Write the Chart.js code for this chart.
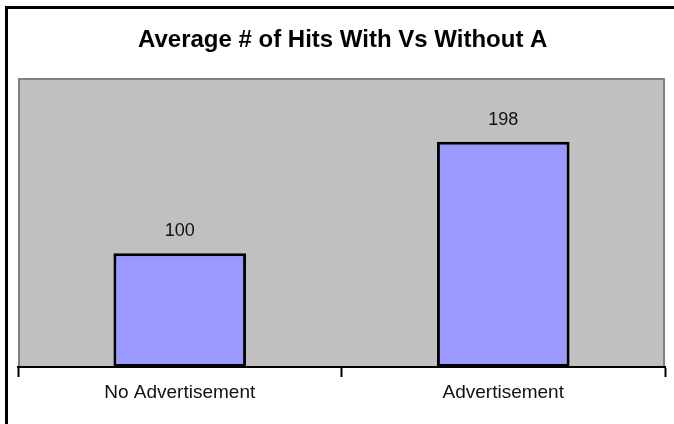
<!DOCTYPE html>
<html><head><meta charset="utf-8">
<script src="https://cdn.jsdelivr.net/npm/chart.js@4/dist/chart.umd.min.js"></script>
<style>html,body{margin:0;padding:0;background:#fff;overflow:hidden}</style>
</head><body>
<canvas id="c" width="674" height="424"></canvas>
<script>
const TITLE = 'Average # of Hits With Vs Without Advertisement';
const categories = ['No Advertisement', 'Advertisement'];
const hits = [100, 198];
const yMin = 0;
const yMax = 254;

const FONT = '"Liberation Sans", Arial, sans-serif';

const decor = {
  id: 'decor',
  beforeDraw(chart) {
    const ctx = chart.ctx, a = chart.chartArea;
    ctx.save();
    ctx.fillStyle = '#fff';
    ctx.fillRect(0, 0, chart.width, chart.height);
    // outer frame (top + left)
    ctx.fillStyle = '#000';
    ctx.fillRect(5, 6, chart.width - 5, 3);
    ctx.fillRect(5, 6, 3, chart.height - 6);
    // plot area
    ctx.fillStyle = '#C0C0C0';
    ctx.fillRect(a.left, a.top, a.right - a.left, a.bottom - a.top);
    ctx.strokeStyle = '#808080';
    ctx.lineWidth = 2;
    ctx.beginPath();
    ctx.moveTo(a.left + 1, a.bottom);
    ctx.lineTo(a.left + 1, a.top + 1);
    ctx.lineTo(a.right - 1, a.top + 1);
    ctx.lineTo(a.right - 1, a.bottom);
    ctx.stroke();
    ctx.restore();
  },
  afterDatasetsDraw(chart) {
    const ctx = chart.ctx;
    const meta = chart.getDatasetMeta(0);
    ctx.save();
    ctx.fillStyle = '#111';
    ctx.font = '18px ' + FONT;
    ctx.textAlign = 'center';
    ctx.textBaseline = 'alphabetic';
    meta.data.forEach((el, i) => {
      ctx.fillText(String(hits[i]), el.x, el.y - 17);
    });
    ctx.restore();
  },
  afterDraw(chart) {
    const ctx = chart.ctx;
    ctx.save();
    ctx.beginPath();
    ctx.rect(0, 0, 547, 75);
    ctx.clip();
    ctx.fillStyle = '#000';
    ctx.font = 'bold 24px ' + FONT;
    ctx.textAlign = 'left';
    ctx.textBaseline = 'alphabetic';
    ctx.fillText(TITLE, 138, 47);
    ctx.restore();
  }
};

new Chart(document.getElementById('c'), {
  type: 'bar',
  data: {
    labels: categories,
    datasets: [{
      data: hits,
      backgroundColor: '#9999FF',
      borderColor: '#000',
      borderWidth: 3,
      borderSkipped: false,
      barPercentage: 0.41,
      categoryPercentage: 1.0
    }]
  },
  options: {
    responsive: false,
    animation: false,
    devicePixelRatio: 1,
    layout: { padding: { left: 18, right: 9, top: 78, bottom: 0 } },
    plugins: { legend: { display: false }, tooltip: { enabled: false }, title: { display: false } },
    scales: {
      x: {
        offset: true,
        grid: { display: true, offset: true, drawOnChartArea: false, drawTicks: true, tickLength: 10, tickWidth: 2, tickColor: '#000' },
        border: { display: true, color: '#000', width: 2 },
        ticks: { color: '#111', font: { family: FONT, size: 19 }, padding: 4 },
        afterFit(s) { s.height = 57; }
      },
      y: {
        display: false,
        min: yMin,
        max: yMax
      }
    }
  },
  plugins: [decor]
});
</script>
</body></html>
